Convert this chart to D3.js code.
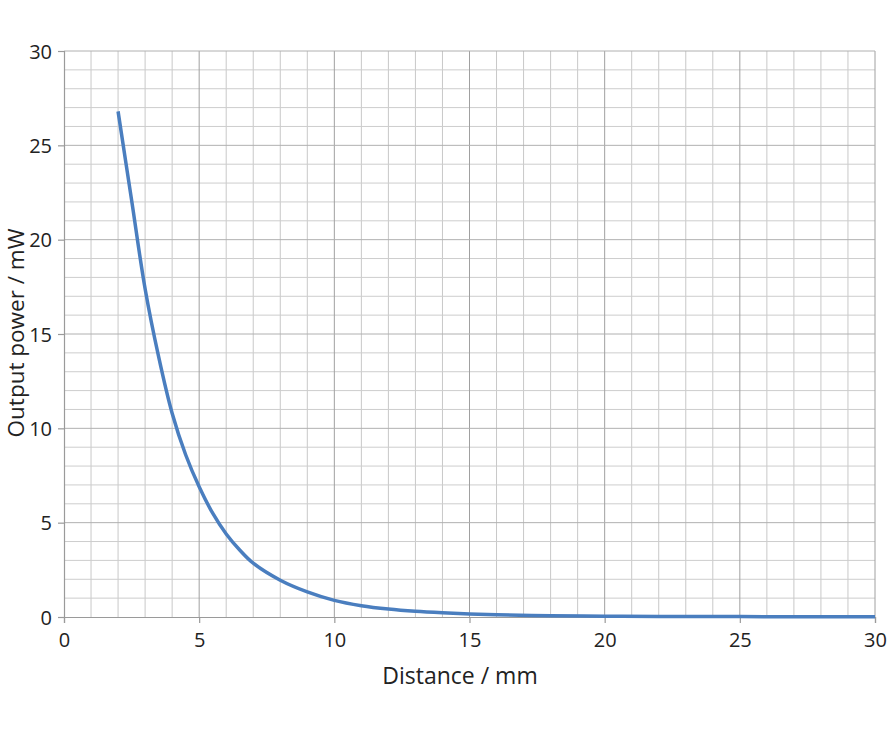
<!DOCTYPE html>
<html><head><meta charset="utf-8">
<script src="https://cdn.jsdelivr.net/npm/d3@7"></script>
<style>body{margin:0;background:#fff}svg{display:block}text{font-family:"Open Sans","Noto Sans",sans-serif;fill:#222}</style>
</head><body>
<svg id="c" width="891" height="729"></svg>
<script>
const distance = [2, 2.5, 3, 3.5, 4, 4.5, 5, 5.5, 6, 6.5, 7, 8, 9, 10, 11, 12, 13, 14, 15, 16, 18, 20, 22, 25, 30];
const power    = [26.8, 22.1, 17.4, 13.8, 10.8, 8.6, 6.9, 5.5, 4.4, 3.55, 2.85, 1.95, 1.33, 0.88, 0.6, 0.42, 0.3, 0.22, 0.16, 0.12, 0.07, 0.04, 0.03, 0.02, 0.01];
const xTicks = [0, 5, 10, 15, 20, 25, 30];
const yTicks = [0, 5, 10, 15, 20, 25, 30];
const xTitle = "Distance / mm";
const yTitle = "Output power / mW";

const svg = d3.select("#c");
const x = d3.scaleLinear().domain([0, 30]).range([64, 875]);
const y = d3.scaleLinear().domain([0, 30]).range([617, 51]);

const g = svg.append("g");
// minor grid
g.selectAll(".vx").data(d3.range(1, 31).filter(v => v % 5 !== 0)).join("line")
  .attr("x1", d => x(d)).attr("x2", d => x(d)).attr("y1", y(0)).attr("y2", y(30))
  .attr("stroke", "#c8c8c8").attr("stroke-width", 1);
g.selectAll(".hy").data(d3.range(1, 31).filter(v => v % 5 !== 0)).join("line")
  .attr("y1", d => y(d)).attr("y2", d => y(d)).attr("x1", x(0)).attr("x2", x(30))
  .attr("stroke", "#cdcdcd").attr("stroke-width", 1);
// major grid
g.selectAll(".mx").data(xTicks.slice(1)).join("line")
  .attr("x1", d => x(d)).attr("x2", d => x(d)).attr("y1", y(0)).attr("y2", y(30))
  .attr("stroke", "#a0a0a0").attr("stroke-width", 1);
g.selectAll(".my").data(yTicks.slice(1)).join("line")
  .attr("y1", d => y(d)).attr("y2", d => y(d)).attr("x1", x(0)).attr("x2", x(30))
  .attr("stroke", "#b0b0b0").attr("stroke-width", 1);

// axes
const xAxis = d3.axisBottom(x).tickValues(xTicks).tickSize(6).tickPadding(6);
const yAxis = d3.axisLeft(y).tickValues(yTicks).tickSize(6).tickPadding(6);
const xa = svg.append("g").attr("transform", `translate(0,${y(0)})`).call(xAxis);
const ya = svg.append("g").attr("transform", `translate(${x(0)},0)`).call(yAxis);
[xa, ya].forEach(a => {
  a.select(".domain").attr("stroke", "#9a9a9a").attr("stroke-width", 1.2);
  a.selectAll(".tick line").attr("stroke", "#9a9a9a").attr("stroke-width", 1.2);
  a.selectAll("text").attr("font-size", 20).attr("font-family", '"Open Sans",sans-serif').attr("fill", "#1a1a1a");
});
xa.selectAll("text").attr("dy", "0.9em");
ya.selectAll("text").attr("dy", "0.35em");

// line
const line = d3.line().x((d, i) => x(distance[i])).y(d => y(d)).curve(d3.curveCatmullRom.alpha(0.5));
svg.append("path").datum(power).attr("d", line)
  .attr("fill", "none").attr("stroke", "#4a7ebf").attr("stroke-width", 3.5).attr("stroke-linecap", "butt");

// titles
svg.append("text").attr("x", 460).attr("y", 684).attr("text-anchor", "middle")
  .attr("font-size", 23).attr("fill", "#1a1a1a").text(xTitle);
svg.append("text").attr("transform", "translate(24,333) rotate(-90)").attr("text-anchor", "middle")
  .attr("font-size", 22.5).attr("fill", "#111").text(yTitle);
</script>
</body></html>
